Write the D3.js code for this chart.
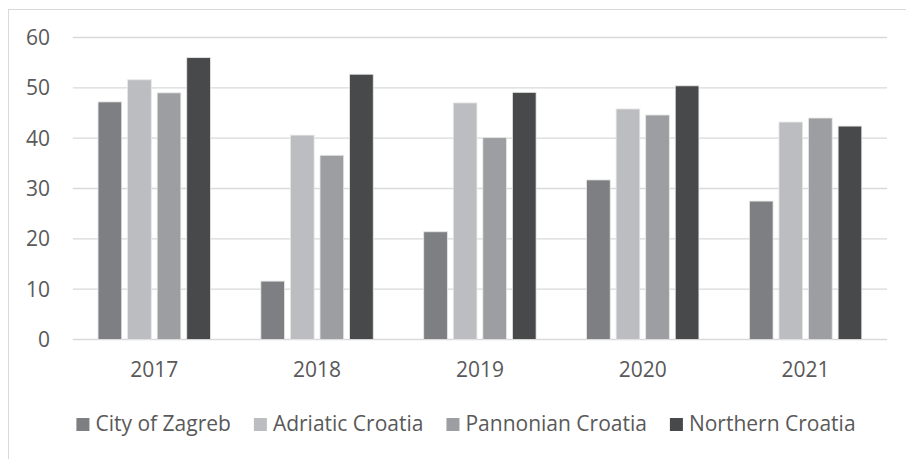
<!DOCTYPE html>
<html>
<head>
<meta charset="utf-8">
<script src="https://cdn.jsdelivr.net/npm/d3@7"></script>
<style>
  body { margin: 0; background: #fff; }
  text { font-family: "Open Sans", sans-serif; fill: #595959; }
</style>
</head>
<body>
<div id="chart"></div>
<script>
        // Chart data
        const years = ["2017", "2018", "2019", "2020", "2021"];
        const regions = ["City of Zagreb", "Adriatic Croatia", "Pannonian Croatia", "Northern Croatia"];
        const zagreb = [47.2, 11.6, 21.4, 31.7, 27.5];
        const adriatic = [51.6, 40.6, 47.0, 45.8, 43.2];
        const pannonian = [49.0, 36.6, 40.1, 44.6, 44.0];
        const northern = [56.0, 52.7, 49.1, 50.4, 42.4];
        const yTicks = [0, 10, 20, 30, 40, 50, 60];
        const colors = ["#7e7f82", "#bcbdc0", "#9d9ea1", "#48494b"];

        const seriesValues = [zagreb, adriatic, pannonian, northern];
        const data = years.map((y, i) => ({
            year: y,
            values: regions.map((r, j) => ({ region: r, value: seriesValues[j][i] }))
        }));

        // Dimensions
        const width = 906;
        const height = 459;
        const margin = { top: 37.5, right: 19, bottom: 119, left: 72.8 };
        const fontSize = 21;

        const svg = d3.select("#chart")
            .append("svg")
            .attr("width", width)
            .attr("height", height);

        // Chart area border (cut off at right/bottom)
        svg.append("rect")
            .attr("x", 8.5)
            .attr("y", 9.5)
            .attr("width", width + 10)
            .attr("height", height + 10)
            .attr("fill", "none")
            .attr("stroke", "#d9d9d9")
            .attr("stroke-width", 1);

        // Scales
        const x0 = d3.scaleBand()
            .domain(years)
            .range([margin.left, width - margin.right])
            .paddingInner(0.31)
            .paddingOuter(0.155);

        const x1 = d3.scaleBand()
            .domain(regions)
            .range([0, x0.bandwidth()])
            .paddingInner(0.2);

        const y = d3.scaleLinear()
            .domain([0, 60])
            .range([height - margin.bottom - 0.5, margin.top]);

        const color = d3.scaleOrdinal().domain(regions).range(colors);

        // Gridlines
        svg.append("g")
            .selectAll("line")
            .data(yTicks)
            .join("line")
            .attr("x1", margin.left)
            .attr("x2", width - margin.right)
            .attr("y1", d => y(d))
            .attr("y2", d => y(d))
            .attr("stroke", "#d9d9d9")
            .attr("stroke-width", 1.4);

        // Y tick labels
        svg.append("g")
            .selectAll("text")
            .data(yTicks)
            .join("text")
            .attr("x", 50)
            .attr("y", d => y(d))
            .attr("dy", "0.35em")
            .attr("text-anchor", "end")
            .style("font-size", fontSize + "px")
            .text(d => d);

        // Bars
        svg.append("g")
            .selectAll("g")
            .data(data)
            .join("g")
            .attr("transform", d => `translate(${x0(d.year)},0)`)
            .selectAll("rect")
            .data(d => d.values)
            .join("rect")
            .attr("x", d => x1(d.region))
            .attr("y", d => y(d.value))
            .attr("width", x1.bandwidth())
            .attr("height", d => y(0) - y(d.value))
            .attr("fill", d => color(d.region))
            .attr("stroke", "#e6e6e6")
            .attr("stroke-width", 0.8);

        // X labels
        svg.append("g")
            .selectAll("text")
            .data(years)
            .join("text")
            .attr("x", d => x0(d) + x0.bandwidth() / 2)
            .attr("y", 377)
            .attr("text-anchor", "middle")
            .style("font-size", fontSize + "px")
            .text(d => d);

        // Legend
        const legend = svg.append("g");
        const items = legend.selectAll("g")
            .data(regions)
            .join("g");
        items.append("rect")
            .attr("width", 13)
            .attr("height", 13)
            .attr("y", -13)
            .attr("fill", d => color(d));
        items.append("text")
            .attr("x", 19)
            .attr("y", 0)
            .style("font-size", fontSize + "px")
            .text(d => d);

        let offset = 0;
        items.each(function () {
            const w = d3.select(this).select("text").node().getComputedTextLength();
            d3.select(this).attr("transform", `translate(${offset},0)`);
            offset += 19 + w + 23;
        });
        const total = offset - 23;
        legend.attr("transform", `translate(${466 - total / 2},431)`);
</script>
</body>
</html>
